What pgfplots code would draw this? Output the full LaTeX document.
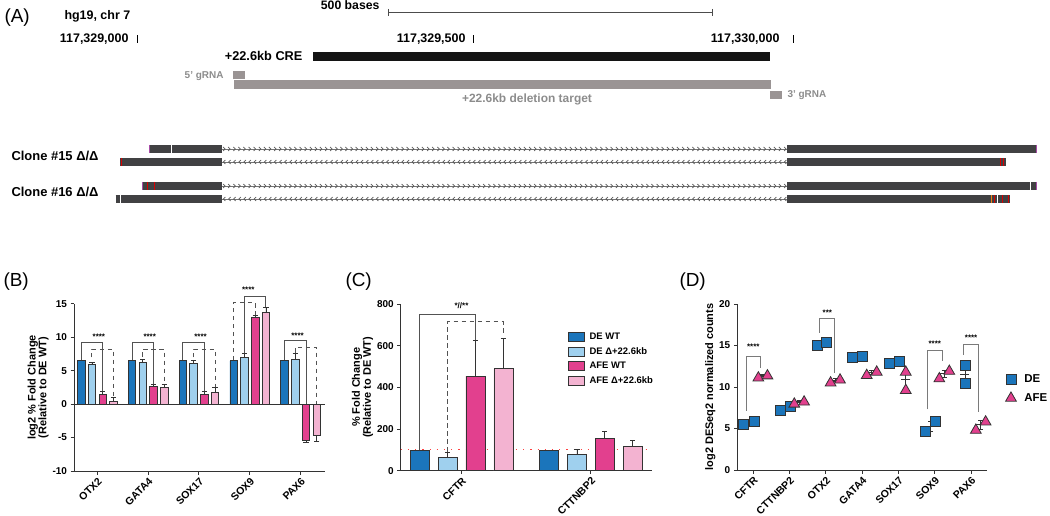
\documentclass[border=0pt]{standalone}
\usepackage{pgfplots}
\pgfplotsset{compat=1.18}
\usepackage{fontspec}
\setmainfont{Liberation Sans}
\usetikzlibrary{decorations.markings}
\definecolor{cDE}{HTML}{1B75BB}
\definecolor{cDEd}{HTML}{9FD0EE}
\definecolor{cAFE}{HTML}{E2408E}
\definecolor{cAFEd}{HTML}{F3B3D1}
\definecolor{trk}{HTML}{414143}
\definecolor{gr}{HTML}{9A9494}
\definecolor{gtxt}{HTML}{8C8C8C}
\definecolor{edge}{HTML}{333333}
\definecolor{brk}{HTML}{7A7A7A}
\newcommand{\fs}[1]{\fontsize{#1}{#1}\selectfont}
\pgfplotsset{
  panel/.style={scale only axis, clip=false,
    axis x line*=bottom, axis y line*=left,
    axis line style={line width=1bp, edge},
    every tick/.style={line width=1bp, edge},
    tick align=outside, major tick length=3.5bp, minor tick num=0,
    ticklabel style={font=\fs{10}\bfseries},
    /pgf/number format/assume math mode=true,
    ylabel style={font=\fs{11}\bfseries, align=center},
    ylabel shift=-3bp,
    xticklabel style={rotate=45, anchor=north east, inner sep=1.5bp, font=\fs{10.5}\bfseries},
  },
  legimg/.style={legend image code/.code={\draw[##1] (0bp,-4.5bp) rectangle (16bp,4.5bp);}},
  barB/.style={ybar, bar width=0.147, bar shift=0, draw=edge, line width=0.8bp, legimg},
  barC/.style={ybar, bar width=0.147, bar shift=0, draw=edge, line width=0.8bp, legimg},
  ebp/.style={error bars/.cd, y dir=plus, y explicit, error bar style={line width=0.8bp, edge}, error mark options={rotate=90, mark size=2.6bp, line width=0.8bp, draw=edge}},
  ebm/.style={error bars/.cd, y dir=minus, y explicit, error bar style={line width=0.8bp, edge}, error mark options={rotate=90, mark size=2.6bp, line width=0.8bp, draw=edge}},
  sol/.style={forget plot, line width=0.9bp, edge!85},
  dsh/.style={forget plot, line width=0.9bp, edge!85, dash pattern=on 4.5bp off 3.5bp},
  trkbox/.style={forget plot, line width=8.5bp, trk},
  chevR/.style={forget plot, line width=0.7bp, black!55, postaction={decorate}, decoration={markings, mark=between positions 0.004 and 1 step 5.1bp with {\draw[line width=0.7bp, black!65] (-1.2bp,-2bp)--(0.8bp,0bp)--(-1.2bp,2bp);}}},
  chevL/.style={forget plot, line width=0.7bp, black!55, postaction={decorate}, decoration={markings, mark=between positions 0.004 and 1 step 5.1bp with {\draw[line width=0.7bp, black!65] (1.2bp,-2bp)--(-0.8bp,0bp)--(1.2bp,2bp);}}},
}
\begin{document}
\begin{tikzpicture}
\useasboundingbox (0bp,0bp) rectangle (1050bp,516bp);
% ================= Panel A =================
\begin{axis}[at={(0bp,301bp)}, anchor=south west, scale only axis, width=1050bp, height=215bp,
  xmin=0, xmax=1050, ymin=0, ymax=215, y dir=reverse, axis lines=none, clip=false]
\addplot[forget plot, line width=9.5bp, black!92] coordinates {(313,56.5) (770,56.5)};
\addplot[forget plot, line width=8.5bp, gr] coordinates {(233,75) (245,75)};
\addplot[forget plot, line width=9bp, gr] coordinates {(234,84.5) (771,84.5)};
\addplot[forget plot, line width=8.5bp, gr] coordinates {(770,95) (782,95)};
\addplot[forget plot, line width=0.8bp, black!70] coordinates {(388,12.7) (712,12.7)};
\addplot[forget plot, line width=0.8bp, black!70] coordinates {(388,9) (388,16.5)};
\addplot[forget plot, line width=0.8bp, black!70] coordinates {(712,9) (712,16.5)};
\addplot[forget plot, line width=0.8bp, black] coordinates {(137,35.5) (137,43)};
\addplot[forget plot, line width=0.8bp, black] coordinates {(473,35.5) (473,43)};
\addplot[forget plot, line width=0.8bp, black] coordinates {(793,35.5) (793,43)};
% tracks
\addplot[chevR] coordinates {(222,149) (787,149)};
\addplot[chevL] coordinates {(222,162) (787,162)};
\addplot[chevR] coordinates {(222,186) (787,186)};
\addplot[chevL] coordinates {(222,199) (787,199)};
\addplot[trkbox] coordinates {(149,149) (170.5,149)};
\addplot[trkbox] coordinates {(172,149) (222,149)};
\addplot[trkbox] coordinates {(787,149) (1036,149)};
\addplot[trkbox] coordinates {(120,162) (222,162)};
\addplot[trkbox] coordinates {(787,162) (1006,162)};
\addplot[trkbox] coordinates {(142,186) (222,186)};
\addplot[trkbox] coordinates {(787,186) (1029.5,186)};
\addplot[trkbox] coordinates {(1031,186) (1036,186)};
\addplot[trkbox] coordinates {(115.5,199) (119.5,199)};
\addplot[trkbox] coordinates {(121,199) (222,199)};
\addplot[trkbox] coordinates {(787,199) (996.5,199)};
\addplot[trkbox] coordinates {(998,199) (1010,199)};
\addplot[forget plot, only marks, mark=|, mark size=4bp, mark options={line width=0.9bp, red!85!black}] coordinates {(121.5,162) (1000,162) (1003,162) (147.5,186) (154,186) (994.5,199) (1002,199) (1008,199)};
\addplot[forget plot, only marks, mark=|, mark size=4bp, mark options={line width=1bp, orange!70!brown}] coordinates {(991.5,199)};
\addplot[forget plot, only marks, mark=|, mark size=4bp, mark options={line width=0.8bp, violet!70}] coordinates {(142.5,186) (149.5,149) (1036,149) (1036,186)};
% texts
\node[anchor=west, font=\fs{19}] at (axis cs:1,18) {(A)};
\node[anchor=west, font=\fs{12.5}\bfseries] at (axis cs:61,16) {hg19, chr 7};
\node[anchor=east, font=\fs{12.5}\bfseries] at (axis cs:132,39.5) {117,329,000};
\node[anchor=east, font=\fs{12.5}\bfseries] at (axis cs:469,39.5) {117,329,500};
\node[anchor=east, font=\fs{12.5}\bfseries] at (axis cs:783,39.5) {117,330,000};
\node[anchor=east, font=\fs{12.3}\bfseries] at (axis cs:383,5.5) {500 bases};
\node[anchor=east, font=\fs{12.8}\bfseries] at (axis cs:306,56) {+22.6kb CRE};
\node[anchor=east, font=\fs{10}\bfseries, text=gtxt] at (axis cs:227,76) {5' gRNA};
\node[anchor=west, font=\fs{10}\bfseries, text=gtxt] at (axis cs:784,95.5) {3' gRNA};
\node[font=\fs{12}\bfseries, text=gtxt] at (axis cs:527,99.5) {+22.6kb deletion target};
\node[anchor=west, font=\fs{13}\bfseries] at (axis cs:8,156) {Clone \#15 Δ/Δ};
\node[anchor=west, font=\fs{13}\bfseries] at (axis cs:8,191.5) {Clone \#16 Δ/Δ};
\end{axis}
% panel labels
\node[anchor=west, font=\fs{19}] at (0bp,234bp) {(B)};
\node[anchor=west, font=\fs{19}] at (342bp,234bp) {(C)};
\node[anchor=west, font=\fs{19}] at (676bp,234bp) {(D)};
% ================= Panel B =================
\begin{axis}[panel, at={(74bp,45bp)}, anchor=south west, width=251bp, height=167bp,
  xmin=-0.46, xmax=4.48, ymin=-10, ymax=15, ytick={-10,-5,0,5,10,15},
  xtick={0,1,2,3,4}, xticklabels={OTX2,GATA4,SOX17,SOX9,PAX6},
  ylabel={log2 \% Fold Change\\(Relative to DE WT)}]
\addplot[forget plot, line width=1bp, edge] coordinates {(-0.46,0) (4.48,0)};
\addplot[barB, fill=cDE, ebp] coordinates {(-0.317,6.5) +- (0,0) (0.683,6.5) +- (0,0) (1.683,6.5) +- (0,0) (2.683,6.5) +- (0,0) (3.683,6.5) +- (0,0)};
\addplot[barB, fill=cDEd, ebp] coordinates {(-0.107,5.95) +- (0,0.35) (0.893,6.3) +- (0,0.45) (1.893,6.1) +- (0,0.45) (2.893,6.95) +- (0,0.6) (3.893,6.7) +- (0,0.9)};
\addplot[barB, fill=cAFE, ebp] coordinates {(0.107,1.4) +- (0,0.5) (1.107,2.6) +- (0,0.35) (2.107,1.45) +- (0,0.45) (3.107,13.0) +- (0,0.3)};
\addplot[barB, fill=cAFE, ebm] coordinates {(4.107,-5.45) +- (0,0.3)};
\addplot[barB, fill=cAFEd, ebp] coordinates {(0.317,0.45) +- (0,0.6) (1.317,2.45) +- (0,0.5) (2.317,1.8) +- (0,0.7) (3.317,13.8) +- (0,0.7)};
\addplot[barB, fill=cAFEd, ebm] coordinates {(4.317,-4.65) +- (0,0.95)};
% brackets
\addplot[sol] coordinates {(-0.317,6.6) (-0.317,9.25) (0.107,9.25) (0.107,2.0)};
\addplot[dsh] coordinates {(-0.107,7.0) (-0.107,8.2) (0.317,8.2) (0.317,1.15)};
\addplot[sol] coordinates {(0.683,6.6) (0.683,9.25) (1.107,9.25) (1.107,3.0)};
\addplot[dsh] coordinates {(0.893,7.1) (0.893,8.2) (1.317,8.2) (1.317,3.0)};
\addplot[sol] coordinates {(1.683,6.6) (1.683,9.25) (2.107,9.25) (2.107,2.0)};
\addplot[dsh] coordinates {(1.893,7.0) (1.893,8.2) (2.317,8.2) (2.317,2.6)};
\addplot[sol] coordinates {(2.893,7.65) (2.893,16.2) (3.317,16.2) (3.317,14.6)};
\addplot[dsh] coordinates {(2.683,6.6) (2.683,15.25) (3.107,15.25) (3.107,13.4)};
\addplot[sol] coordinates {(3.683,6.6) (3.683,9.5) (4.107,9.5) (4.107,0)};
\addplot[dsh] coordinates {(3.893,7.7) (3.893,8.5) (4.317,8.5) (4.317,0)};
\node[font=\fs{8}\bfseries] at (axis cs:0.03,10.1) {****};
\node[font=\fs{8}\bfseries] at (axis cs:1.03,10.1) {****};
\node[font=\fs{8}\bfseries] at (axis cs:2.03,10.1) {****};
\node[font=\fs{8}\bfseries] at (axis cs:2.97,17.1) {****};
\node[font=\fs{8}\bfseries] at (axis cs:3.94,10.3) {****};
\end{axis}
% ================= Panel C =================
\begin{axis}[panel, at={(400.7bp,45.3bp)}, anchor=south west, width=251bp, height=166.7bp,
  xmin=-0.47, xmax=1.47, ymin=0, ymax=800, ytick={0,200,400,600,800},
  xtick={0,1}, xticklabels={CFTR,CTTNBP2},
  ylabel={\% Fold Change\\(Relative to DE WT)},
  legend style={at={(0.665,0.84)}, anchor=north west, draw=none, fill=none, font=\fs{9.5}\bfseries, row sep=2.6bp, inner sep=0pt,
    /tikz/every odd column/.append style={column sep=3bp}},
  legend cell align=left]
\addplot[forget plot, red!75, line width=1.1bp, dash pattern=on 1.2bp off 6bp] coordinates {(-0.47,100) (1.47,100)};
\addplot[barC, fill=cDE, ebp] coordinates {(-0.324,97) +- (0,0) (0.676,97) +- (0,0)};
\addlegendentry{DE WT}
\addplot[barC, fill=cDEd, ebp] coordinates {(-0.108,64) +- (0,24) (0.892,78) +- (0,24)};
\addlegendentry{DE Δ+22.6kb}
\addplot[barC, fill=cAFE, ebp] coordinates {(0.108,454) +- (0,170) (1.108,156) +- (0,33)};
\addlegendentry{AFE WT}
\addplot[barC, fill=cAFEd, ebp] coordinates {(0.324,489) +- (0,144) (1.324,118) +- (0,26)};
\addlegendentry{AFE Δ+22.6kb}
\addplot[sol] coordinates {(-0.324,100) (-0.324,750) (0.108,750) (0.108,628)};
\addplot[dsh] coordinates {(-0.108,92) (-0.108,715) (0.324,715) (0.324,662)};
\node[font=\fs{8}\bfseries] at (axis cs:0,790) {*//**};
\end{axis}
% ================= Panel D =================
\begin{axis}[panel, at={(737.3bp,46bp)}, anchor=south west, width=249.4bp, height=166bp,
  xmin=-0.44, xmax=6.43, ymin=0, ymax=20, ytick={0,5,10,15,20},
  xtick={0,1,2,3,4,5,6}, xticklabels={CFTR,CTTNBP2,OTX2,GATA4,SOX17,SOX9,PAX6},
  ylabel={log2 DESeq2 normalized counts},
  legend style={at={(1.075,0.585)}, anchor=north west, draw=none, fill=none, font=\fs{11.5}\bfseries, row sep=5bp, inner sep=0pt,
    /tikz/every odd column/.append style={column sep=6bp}},
  legend cell align=left]
\addplot[forget plot, only marks, mark=-, mark size=4.5bp, mark options={line width=1bp, draw=edge},
  error bars/.cd, y dir=both, y explicit, error bar style={line width=0.8bp, edge}, error mark options={rotate=90, mark size=2.5bp, line width=0.8bp, draw=edge}]
  coordinates {(-0.12,5.72) +- (0,0.18) (0.265,11.37) +- (0,0.13) (0.89,7.47) +- (0,0.24) (1.265,8.22) +- (0,0.13)
  (1.89,15.2) +- (0,0.14) (2.26,10.82) +- (0,0.18) (2.87,13.64) +- (0,0.06) (3.26,11.75) +- (0,0.21)
  (3.885,12.99) +- (0,0.14) (4.2,10.86) +- (0,1.1) (4.885,5.26) +- (0,0.56) (5.26,11.59) +- (0,0.47)
  (5.83,11.5) +- (0,1.06) (6.265,5.44) +- (0,0.5)};
\addplot[forget plot, line width=0.9bp, brk] coordinates {(-0.2,7.15) (-0.2,13.65) (0.2,13.65) (0.2,12.25)};
\addplot[forget plot, line width=0.9bp, brk] coordinates {(1.82,16.55) (1.82,18.3) (2.23,18.3) (2.23,11.7)};
\addplot[forget plot, line width=0.9bp, brk] coordinates {(4.8,7.3) (4.8,14.37) (5.2,14.37) (5.2,13.13)};
\addplot[forget plot, line width=0.9bp, brk] coordinates {(5.8,13.86) (5.8,15.14) (6.2,15.14) (6.2,6.95)};
\node[font=\fs{8}\bfseries] at (axis cs:0,14.9) {****};
\node[font=\fs{8}\bfseries] at (axis cs:2.04,19.0) {***};
\node[font=\fs{8}\bfseries] at (axis cs:5.0,15.2) {****};
\node[font=\fs{8}\bfseries] at (axis cs:6.0,15.9) {****};
\addplot[only marks, mark=square*, mark size=5bp, mark options={fill=cDE, draw=edge, line width=0.8bp}]
  coordinates {(-0.26,5.54) (0.02,5.9) (0.755,7.23) (1.03,7.71) (1.76,15.06) (2.02,15.34) (2.74,13.58) (3.01,13.7)
  (3.75,12.85) (4.02,13.13) (4.75,4.7) (5.02,5.82) (5.83,12.57) (5.83,10.44)};
\addlegendentry{DE}
\addplot[only marks, mark=triangle*, mark size=6.2bp, mark options={fill=cAFE, draw=edge, line width=0.8bp}]
  coordinates {(0.14,11.1) (0.39,11.35) (1.13,7.95) (1.40,8.2) (2.13,10.5) (2.39,10.85) (3.125,11.4) (3.4,11.8)
  (4.2,11.8) (4.2,9.6) (5.125,11.0) (5.40,11.9) (6.13,4.8) (6.40,5.8)};
\addlegendentry{AFE}
\end{axis}
\end{tikzpicture}
\end{document}
